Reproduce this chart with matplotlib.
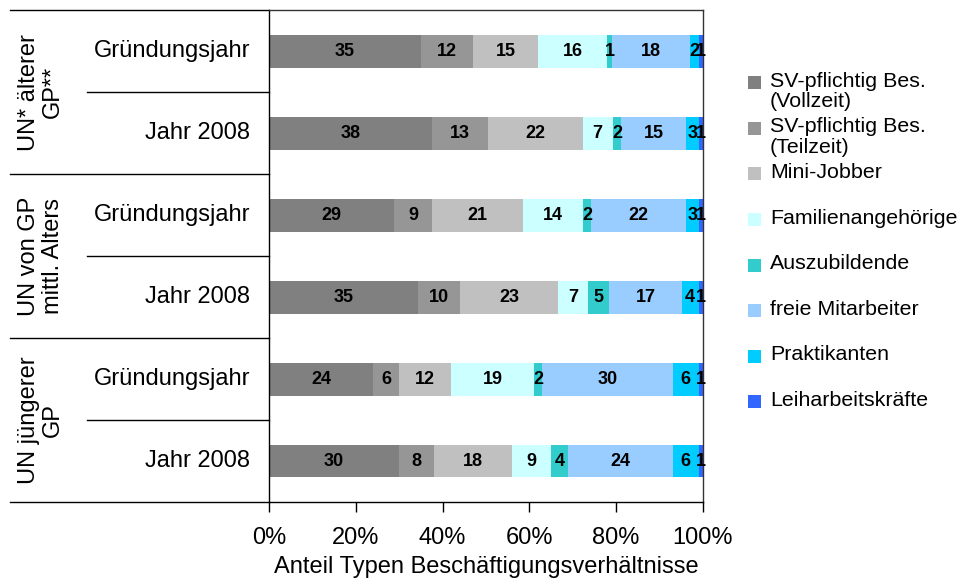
import matplotlib
matplotlib.use("Agg")
import matplotlib.pyplot as plt
from matplotlib.patches import Rectangle
import numpy as np

plt.rcParams['font.family'] = ['Liberation Sans', 'DejaVu Sans']

# rows top to bottom
groups = ['UN* älterer\nGP**', 'UN von GP\nmittl. Alters', 'UN jüngerer\nGP']
rows = ['Gründungsjahr', 'Jahr 2008'] * 3

series = ['SV-pflichtig Bes.\n(Vollzeit)', 'SV-pflichtig Bes.\n(Teilzeit)', 'Mini-Jobber',
          'Familienangehörige', 'Auszubildende', 'freie Mitarbeiter', 'Praktikanten',
          'Leiharbeitskräfte']
colors = ['#808080', '#969696', '#C0C0C0', '#CCFFFF', '#33CCCC', '#99CCFF', '#00CCFF', '#3366FF']

vollzeit = [35, 38, 29, 35, 24, 30]
teilzeit = [12, 13, 9, 10, 6, 8]
minijob = [15, 22, 21, 23, 12, 18]
familie = [16, 7, 14, 7, 19, 9]
azubi = [1, 2, 2, 5, 2, 4]
freie = [18, 15, 22, 17, 30, 24]
prakt = [2, 3, 3, 4, 6, 6]
leih = [1, 1, 1, 1, 1, 1]

vals = np.array([vollzeit, teilzeit, minijob, familie, azubi, freie, prakt, leih], dtype=float)
# 100% stacked: normalise each row
shares = vals / vals.sum(axis=0) * 100

fig = plt.figure(figsize=(9.61, 5.8), dpi=100)
ax = fig.add_axes([0.2799, 0.1345, 0.4516, 0.8474])

y = np.arange(len(rows))
left = np.zeros(len(rows))
for i in range(len(series)):
    bars = ax.barh(y, shares[i], left=left, height=0.4, color=colors[i], edgecolor='none')
    ax.bar_label(bars, labels=[str(int(v)) for v in vals[i]], label_type='center',
                 fontsize=13, fontweight='bold', color='black')
    left += shares[i]

ax.set_xlim(0, 100)
ax.set_ylim(len(rows) - 0.5, -0.5)
ax.set_yticks([])
ax.set_xticks(np.arange(0, 101, 20))
ax.set_xticklabels(['%d%%' % t for t in range(0, 101, 20)])
ax.tick_params(axis='x', length=7, width=1, pad=11, labelsize=17, direction='out')
ax.set_xlabel('Anteil Typen Beschäftigungsverhältnisse', fontsize=17, labelpad=5)
for s in ['top', 'right']:
    ax.spines[s].set_color('#333333')
for s in ax.spines.values():
    s.set_linewidth(1)

# hierarchical category axis
tr = ax.get_yaxis_transform()
x_out = (10 - 269) / 434
x_in = (87 - 269) / 434
for k in range(len(groups) + 1):
    yy = 2 * k - 0.5
    ax.plot([x_out, 0], [yy, yy], color='black', lw=1, transform=tr, clip_on=False)
for k in range(len(groups)):
    yy = 2 * k + 0.5
    ax.plot([x_in, 0], [yy, yy], color='black', lw=1, transform=tr, clip_on=False)
    ax.text((41 - 269) / 434, 2 * k + 0.5, groups[k], rotation=90, ha='center', va='center',
            multialignment='center', linespacing=1.1, fontsize=17, transform=tr)
for i, r in enumerate(rows):
    ax.text(-0.044, i, r, ha='right', va='center', fontsize=17, transform=tr)

# legend
for i, lab in enumerate(series):
    yc = 82.7 + 45.6 * i
    fig.patches.append(Rectangle((748 / 961, 1 - (yc + 6.5) / 580), 13 / 961, 13 / 580,
                                 facecolor=colors[i], edgecolor='none',
                                 transform=fig.transFigure))
    fig.text(770 / 961, 1 - (yc - 11) / 580, lab, ha='left', va='top', fontsize=15.4,
             linespacing=1.1)

fig.savefig('out.png', dpi=100)
